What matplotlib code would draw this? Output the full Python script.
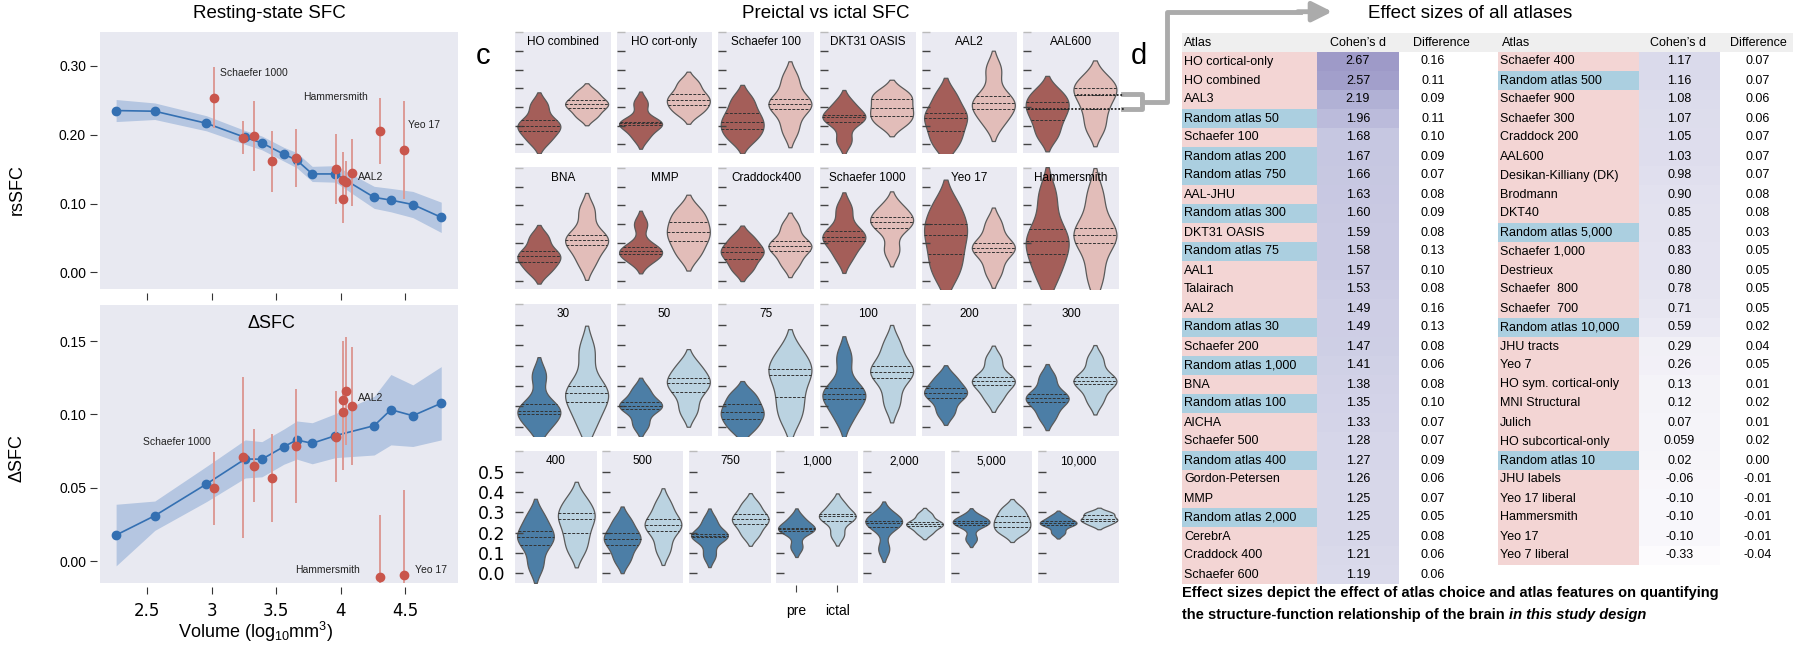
import numpy as np
import pandas as pd
import matplotlib
matplotlib.use("Agg")
import matplotlib.pyplot as plt
import seaborn as sns
from matplotlib.patches import Rectangle

plt.rcParams['font.family'] = ['Liberation Sans', 'DejaVu Sans']
plt.rcParams['mathtext.default'] = 'regular'

# ---- panel a / b : SFC vs parcel volume ----
blue_x = [2.26, 2.56, 2.96, 3.26, 3.39, 3.56, 3.66, 3.78, 3.96, 4.26, 4.39, 4.56, 4.78]
rs_blue = [0.235, 0.234, 0.2165, 0.196, 0.188, 0.1716, 0.163, 0.143, 0.143, 0.109, 0.105, 0.0986, 0.080]
rs_band = [0.016, 0.012, 0.011, 0.010, 0.010, 0.010, 0.011, 0.011, 0.012, 0.016, 0.017, 0.019, 0.022]
d_blue = [0.0177, 0.0309, 0.0525, 0.0696, 0.0694, 0.078, 0.0825, 0.0803, 0.0855, 0.0923, 0.1032, 0.0991, 0.1076]
d_band = [0.021, 0.010, 0.012, 0.013, 0.012, 0.012, 0.013, 0.014, 0.015, 0.020, 0.024, 0.021, 0.025]

red_x = [3.02, 3.24, 3.33, 3.47, 3.655, 3.965, 4.017, 4.04, 4.017, 4.092, 4.303, 4.49]
rs_red = [0.2536, 0.1957, 0.198, 0.1614, 0.1657, 0.1498, 0.1343, 0.132, 0.1064, 0.145, 0.2054, 0.178]
rs_err = [0.044, 0.024, 0.051, 0.044, 0.042, 0.051, 0.041, 0.030, 0.035, 0.048, 0.048, 0.071]
d_red = [0.0496, 0.0707, 0.065, 0.0566, 0.0784, 0.0848, 0.1098, 0.116, 0.1019, 0.1057, -0.0107, -0.0095]
d_err = [0.025, 0.055, 0.025, 0.030, 0.039, 0.031, 0.040, 0.037, 0.040, 0.040, 0.042, 0.058]

rs_labels = [("Schaefer 1000", 3.066, 0.290), ("Hammersmith", 3.707, 0.255),
             ("Yeo 17", 4.526, 0.214), ("AAL2", 4.138, 0.139)]
d_labels = [("Schaefer 1000", 2.472, 0.0814), ("AAL2", 4.138, 0.111),
            ("Hammersmith", 3.647, -0.006), ("Yeo 17", 4.578, -0.006)]

# ---- panel c : preictal vs ictal violins (low, q1, median, q3, high) ----
row1_titles = ["HO combined", "HO cort-only", "Schaefer 100", "DKT31 OASIS", "AAL2", "AAL600"]
row1_pre = [[0.02, 0.074, 0.10, 0.13, 0.21], [0.04, 0.105, 0.112, 0.12, 0.22],
            [0.03, 0.08, 0.12, 0.167, 0.24], [0.02, 0.12, 0.146, 0.16, 0.22],
            [0.0, 0.07, 0.14, 0.17, 0.26], [0.05, 0.13, 0.188, 0.228, 0.28]]
row1_ictal = [[0.15, 0.193, 0.216, 0.237, 0.28], [0.17, 0.21, 0.24, 0.272, 0.33],
              [0.08, 0.19, 0.215, 0.242, 0.35], [0.11, 0.153, 0.193, 0.242, 0.28],
              [0.12, 0.19, 0.22, 0.26, 0.40], [0.09, 0.188, 0.267, 0.30, 0.35]]

row2_titles = ["BNA", "MMP", "Craddock400", "Schaefer 1000", "Yeo 17", "Hammersmith"]
row2_pre = [[0.05, 0.10, 0.129, 0.16, 0.23], [0.11, 0.14, 0.16, 0.18, 0.30],
            [0.06, 0.117, 0.152, 0.178, 0.23], [0.13, 0.213, 0.23, 0.266, 0.38],
            [0.04, 0.14, 0.24, 0.30, 0.40], [0.03, 0.143, 0.21, 0.273, 0.45]]
row2_ictal = [[0.10, 0.19, 0.215, 0.245, 0.37], [0.14, 0.213, 0.257, 0.31, 0.37],
              [0.09, 0.16, 0.183, 0.21, 0.29], [0.16, 0.28, 0.31, 0.339, 0.39],
              [0.05, 0.15, 0.175, 0.20, 0.30], [0.03, 0.20, 0.245, 0.28, 0.45]]

row3_titles = ["30", "50", "75", "100", "200", "300"]
row3_pre = [[0.0, 0.06, 0.077, 0.11, 0.25], [0.01, 0.087, 0.10, 0.12, 0.18],
            [-0.01, 0.039, 0.07, 0.11, 0.16], [0.05, 0.134, 0.16, 0.19, 0.34],
            [0.07, 0.14, 0.164, 0.19, 0.24], [0.05, 0.12, 0.139, 0.16, 0.24]]
row3_ictal = [[0.02, 0.12, 0.164, 0.20, 0.37], [0.08, 0.17, 0.213, 0.24, 0.30],
              [0.05, 0.147, 0.253, 0.281, 0.36], [0.12, 0.24, 0.27, 0.30, 0.40],
              [0.14, 0.203, 0.225, 0.245, 0.33], [0.13, 0.208, 0.222, 0.245, 0.33]]

row4_titles = ["400", "500", "750", "1,000", "2,000", "5,000", "10,000"]
row4_pre = [[0.04, 0.14, 0.177, 0.21, 0.28], [0.07, 0.139, 0.17, 0.20, 0.26],
            [0.09, 0.177, 0.185, 0.192, 0.26], [0.13, 0.21, 0.218, 0.225, 0.27],
            [0.12, 0.23, 0.249, 0.26, 0.29], [0.17, 0.238, 0.248, 0.258, 0.28],
            [0.20, 0.238, 0.246, 0.256, 0.28]]
row4_ictal = [[0.12, 0.197, 0.267, 0.296, 0.36], [0.12, 0.21, 0.238, 0.266, 0.34],
              [0.19, 0.241, 0.265, 0.29, 0.34], [0.19, 0.26, 0.282, 0.29, 0.34],
              [0.20, 0.232, 0.241, 0.255, 0.29], [0.20, 0.227, 0.254, 0.282, 0.32],
              [0.24, 0.26, 0.266, 0.287, 0.30]]

# ---- panel d : effect size table ----
left_atlas = ["HO cortical-only", "HO combined", "AAL3", "Random atlas 50", "Schaefer 100",
              "Random atlas 200", "Random atlas 750", "AAL-JHU", "Random atlas 300", "DKT31 OASIS",
              "Random atlas 75", "AAL1", "Talairach", "AAL2", "Random atlas 30", "Schaefer 200",
              "Random atlas 1,000", "BNA", "Random atlas 100", "AICHA", "Schaefer 500",
              "Random atlas 400", "Gordon-Petersen", "MMP", "Random atlas 2,000", "CerebrA",
              "Craddock 400", "Schaefer 600"]
left_d = [2.67, 2.57, 2.19, 1.96, 1.68, 1.67, 1.66, 1.63, 1.60, 1.59, 1.58, 1.57, 1.53, 1.49,
          1.49, 1.47, 1.41, 1.38, 1.35, 1.33, 1.28, 1.27, 1.26, 1.25, 1.25, 1.25, 1.21, 1.19]
left_diff = [0.16, 0.11, 0.09, 0.11, 0.10, 0.09, 0.07, 0.08, 0.09, 0.08, 0.13, 0.10, 0.08, 0.16,
             0.13, 0.08, 0.06, 0.08, 0.10, 0.07, 0.07, 0.09, 0.06, 0.07, 0.05, 0.08, 0.06, 0.06]
right_atlas = ["Schaefer 400", "Random atlas 500", "Schaefer 900", "Schaefer 300", "Craddock 200",
               "AAL600", "Desikan-Killiany (DK)", "Brodmann", "DKT40", "Random atlas 5,000",
               "Schaefer 1,000", "Destrieux", "Schaefer  800", "Schaefer  700", "Random atlas 10,000",
               "JHU tracts", "Yeo 7", "HO sym. cortical-only", "MNI Structural", "Julich",
               "HO subcortical-only", "Random atlas 10", "JHU labels", "Yeo 17 liberal",
               "Hammersmith", "Yeo 17", "Yeo 7 liberal"]
right_d = ["1.17", "1.16", "1.08", "1.07", "1.05", "1.03", "0.98", "0.90", "0.85", "0.85", "0.83",
           "0.80", "0.78", "0.71", "0.59", "0.29", "0.26", "0.13", "0.12", "0.07", "0.059", "0.02",
           "-0.06", "-0.10", "-0.10", "-0.10", "-0.33"]
right_diff = [0.07, 0.07, 0.06, 0.06, 0.07, 0.07, 0.07, 0.08, 0.08, 0.03, 0.05, 0.05, 0.05, 0.05,
              0.02, 0.04, 0.05, 0.01, 0.02, 0.01, 0.02, 0.00, -0.01, -0.01, -0.01, -0.01, -0.04]

W, H = 1800, 652
fig = plt.figure(figsize=(W / 100, H / 100), dpi=100)
fig.patch.set_facecolor("white")

ov = fig.add_axes([0, 0, 1, 1])
ov.set_xlim(0, W)
ov.set_ylim(H, 0)
ov.axis("off")


def box(x0, y0, x1, y1):
    return fig.add_axes([x0 / W, 1 - y1 / H, (x1 - x0) / W, (y1 - y0) / H])


BG = "#E8E9F1"
BLUE = "#3470B2"
RED = "#C9564C"


def sfc_axes(ax, yb, band, yr, err, labels, ylim, yticks, yfmt):
    ax.set_facecolor(BG)
    for s in ax.spines.values():
        s.set_visible(False)
    yb = np.array(yb)
    band = np.array(band)
    ax.fill_between(blue_x, yb - band, yb + band, color="#B5C6E1", lw=0, zorder=1)
    ax.plot(blue_x, yb, "-o", color=BLUE, lw=1.2, ms=6, zorder=2)
    ax.errorbar(red_x, yr, yerr=err, fmt="o", color=RED, ecolor="#DC9A96",
                elinewidth=1.4, ms=6, zorder=3)
    for t, x, y in labels:
        ax.text(x, y, t, fontsize=7.5, va="center", ha="left", color="#222222")
    ax.set_xlim(2.135, 4.91)
    ax.set_ylim(*ylim)
    ax.set_yticks(yticks)
    ax.set_yticklabels([yfmt % v for v in yticks], family="DejaVu Sans", fontsize=12)
    ax.set_xticks([2.5, 3, 3.5, 4, 4.5])
    ax.tick_params(axis="y", direction="out", length=5, color="#333333", pad=3)
    ax.tick_params(axis="x", direction="out", length=5, color="#333333", pad=6)
    ax.spines["bottom"].set_position(("outward", 3))
    ax.spines["left"].set_position(("outward", 2))


ax_a = box(100, 32, 458, 289)
sfc_axes(ax_a, rs_blue, rs_band, rs_red, rs_err, rs_labels, (-0.024, 0.349),
         [0.0, 0.1, 0.2, 0.3], "%.2f")
ax_a.set_xticklabels([])

ax_b = box(100, 305, 458, 583)
sfc_axes(ax_b, d_blue, d_band, d_red, d_err, d_labels, (-0.015, 0.1746),
         [0.0, 0.05, 0.10, 0.15], "%.2f")
ax_b.set_xticklabels(["2.5", "3", "3.5", "4", "4.5"], family="DejaVu Sans", fontsize=12)
ax_b.text(0.48, 0.935, "ΔSFC", transform=ax_b.transAxes, ha="center", va="center", fontsize=13)

ov.text(269, 13, "Resting-state SFC", ha="center", va="center", fontsize=13.5)
ov.text(17, 190, "rsSFC", rotation=90, ha="center", va="center", fontsize=13)
ov.text(17, 458, "ΔSFC", rotation=90, ha="center", va="center", fontsize=13)
ov.text(256, 632, "Volume (log$_{10}$mm$^3$)", ha="center", va="center", fontsize=13)
ov.text(124, 56, "a", ha="center", va="center", fontsize=21)
ov.text(124, 335, "b", ha="center", va="center", fontsize=21)

# ---- violins ----
PAL_RED = ["#B0544C", "#E9B7B2"]
PAL_BLUE = ["#3D80B5", "#B5D5E7"]
row_y = [(32, 153), (167.3, 289.3), (304, 436), (451, 582.7)]
x6 = [515, 616.7, 718.3, 820, 921.7, 1023.3]
x7 = [515, 601.7, 689, 776, 863.3, 950.7, 1037.7]
rows = [(row1_titles, row1_pre, row1_ictal, PAL_RED, x6, 95.5),
        (row2_titles, row2_pre, row2_ictal, PAL_RED, x6, 95.5),
        (row3_titles, row3_pre, row3_ictal, PAL_BLUE, x6, 95.5),
        (row4_titles, row4_pre, row4_ictal, PAL_BLUE, x7, 81.7)]

vax = {}
for r, (titles, pres, icts, pal, xs, w) in enumerate(rows):
    y0, y1 = row_y[r]
    for i, t in enumerate(titles):
        ax = box(xs[i], y0, xs[i] + w, y1)
        df = pd.DataFrame({"phase": ["pre"] * len(pres[i]) + ["ictal"] * len(icts[i]),
                           "value": pres[i] + icts[i]})
        sns.violinplot(data=df, x="phase", y="value", hue="phase", order=["pre", "ictal"],
                       hue_order=["pre", "ictal"], palette=pal, inner="quart",
                       linewidth=0.9, linecolor="#5a5a5a", cut=1.8, bw_adjust=0.75,
                       width=0.9, legend=False, ax=ax,
                       inner_kws=dict(color="#333333", linewidth=0.7, dashes=(3, 1.5)))
        ax.set_facecolor("#EAEAF2")
        for s in ax.spines.values():
            s.set_visible(False)
        ax.set_xlim(-0.5, 1.5)
        ax.set_ylim(-0.046, 0.602)
        ax.set_xlabel("")
        ax.set_ylabel("")
        ax.set_yticks([0, 0.1, 0.2, 0.3, 0.4, 0.5])
        ax.set_yticks([0.6], minor=True)
        ax.tick_params(axis="y", which="major", direction="in", length=6, color="#444444", width=1)
        ax.tick_params(axis="y", which="minor", direction="in", length=6, color="#bbbbbb", width=1)
        ax.set_yticklabels([])
        ax.set_xticks([])
        ax.annotate(t, xy=(0.5, 1), xycoords="axes fraction", xytext=(0, -7.5),
                    textcoords="offset points", ha="center", va="center", fontsize=8.5)
        vax[(r, i)] = ax

ax = vax[(3, 0)]
ax.set_yticklabels(["0.0", "0.1", "0.2", "0.3", "0.4", "0.5"], family="DejaVu Sans", fontsize=12.5)
ax.tick_params(axis="y", which="major", pad=7)
ax = vax[(3, 3)]
ax.set_xticks([0, 1])
ax.set_xticklabels(["pre", "ictal"], fontsize=13.5)
ax.tick_params(axis="x", direction="out", length=5, color="#444444", pad=8)
ax.spines["bottom"].set_position(("outward", 2))

# dotted quartile guides from AAL600 to the table
ax = vax[(0, 5)]
ax.plot([0.62, 1.6], [row1_ictal[5][2]] * 2, ls=(0, (1, 1)), color="#222222", lw=1.3, clip_on=False)
ax.plot([-0.4, 1.6], [row1_ictal[5][1]] * 2, ls=(0, (1, 1)), color="#222222", lw=1.3, clip_on=False)

GRAY = "#ABABAB"
ov.plot([1123, 1142, 1142, 1123], [94.3, 94.3, 109.3, 109.3], color=GRAY, lw=3.5, solid_joinstyle="round")
ov.plot([1142, 1167, 1167, 1300], [101.8, 101.8, 11.7, 11.7], color=GRAY, lw=3.5, solid_joinstyle="round")
ov.annotate("", xy=(1335, 11.7), xytext=(1295, 11.7),
            arrowprops=dict(arrowstyle="-|>,head_length=1.2,head_width=0.6", color=GRAY, lw=3.5))

ov.text(826, 13, "Preictal vs ictal SFC", ha="center", va="center", fontsize=13.5)
ov.text(483, 56, "c", ha="center", va="center", fontsize=21)
ov.text(1139, 56, "d", ha="center", va="center", fontsize=21)

# ---- table ----
ov.text(1470, 13, "Effect sizes of all atlases", ha="center", va="center", fontsize=13.5)
PINK = "#F3D5D4"
RBLUE = "#ABCFE0"
cmap = plt.get_cmap("Purples")
norm = plt.Normalize(-0.33, 5.67)
ROW = 19.0
TOP = 52.0
FS = 9

ov.add_patch(Rectangle((1182, 33), 1793 - 1182, TOP - 33, color="#EFEFEF", lw=0))
for x, t, ha in [(1184, "Atlas", "left"), (1358, "Cohen\u2019s d", "center"), (1441, "Difference", "center"),
                 (1502, "Atlas", "left"), (1678, "Cohen\u2019s d", "center"), (1758, "Difference", "center")]:
    ov.text(x, (33 + TOP) / 2, t, ha=ha, va="center", fontsize=FS)


def table(names, dvals, dtexts, diffs, xa0, xa1, xc1, xdiff):
    for k, name in enumerate(names):
        y = TOP + k * ROW
        col = RBLUE if name.startswith("Random") else PINK
        ov.add_patch(Rectangle((xa0, y), xa1 - xa0, ROW, color=col, lw=0))
        ov.add_patch(Rectangle((xa1, y), xc1 - xa1, ROW, color=cmap(norm(dvals[k])), lw=0))
        ov.text(xa0 + 2, y + ROW / 2, name, ha="left", va="center", fontsize=FS)
        ov.text((xa1 + xc1) / 2, y + ROW / 2, dtexts[k], ha="center", va="center", fontsize=FS)
        ov.text(xdiff, y + ROW / 2, "%.2f" % diffs[k], ha="center", va="center", fontsize=FS)


table(left_atlas, left_d, ["%.2f" % v for v in left_d], left_diff, 1182, 1317, 1399, 1433)
table(right_atlas, [float(v) for v in right_d], right_d, right_diff, 1498, 1639, 1720, 1758)

t1 = ov.text(1182, 593, "Effect sizes depict the effect of atlas choice and atlas features on quantifying",
             ha="left", va="center", fontsize=10.5, fontweight="bold")
t2 = ov.text(1182, 615, "the structure-function relationship of the brain",
             ha="left", va="center", fontsize=10.5, fontweight="bold")
rend = fig.canvas.get_renderer()
bb = t2.get_window_extent(renderer=rend)
xe = ov.transData.inverted().transform((bb.x1, bb.y0))[0]
ov.text(xe + 4, 615, "in this study design", ha="left", va="center", fontsize=10.5,
        fontweight="bold", style="italic")

fig.savefig("out.png", dpi=100)
